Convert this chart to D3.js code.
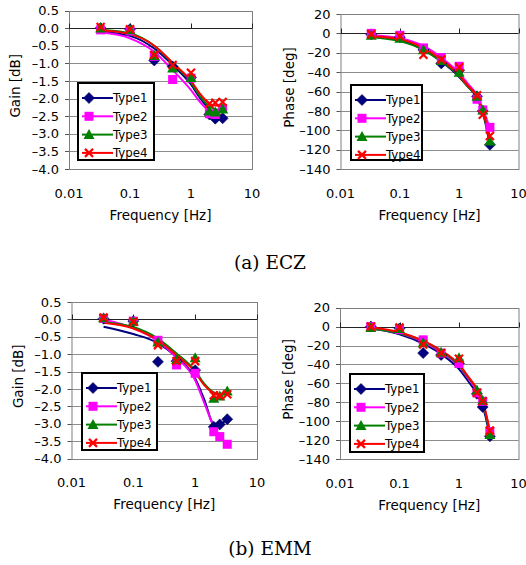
<!DOCTYPE html>
<html lang="en">
<head>
<meta charset="UTF-8" />
<title>ECZ / EMM frequency response</title>
<script src="https://d3js.org/d3.v7.min.js"></script>
<style>
  body { margin: 0; background: #fff; }
  svg { display: block; }
  .tick { font-family: "DejaVu Sans", sans-serif; font-size: 13px; fill: #000; }
  .title { font-family: "DejaVu Sans", sans-serif; font-size: 13.5px; fill: #000; }
  .leg { font-family: "DejaVu Sans", sans-serif; font-size: 11.8px; fill: #000; }
  .caption { font-family: "DejaVu Serif", serif; font-size: 18.5px; fill: #000; }
</style>
</head>
<body>
<svg id="chart" width="526" height="565"></svg>
<script>
// measured frequencies and fitted-curve frequencies (Hz)
const pointFreqs = [0.033, 0.1, 0.25, 0.5, 1, 2, 2.5, 3.3];
const curveFreqs = [0.033, 0.1, 0.25, 0.5, 1, 1.4, 2, 2.5, 3.3];
const types = ["Type1", "Type2", "Type3", "Type4"];
const xTicks = [0.01, 0.1, 1, 10];

// (a) ECZ gain [dB]
const eczGainPts = [
  [0, -0.03, -0.92, -1.09, -1.40, -2.45, -2.57, -2.56],
  [-0.05, -0.08, -0.80, -1.46, -1.42, -2.43, -2.45, -2.28],
  [0, -0.05, -0.78, -1.13, -1.40, -2.35, -2.38, -2.30],
  [0.03, -0.03, -0.76, -1.05, -1.27, -2.15, -2.12, -2.10]
];
const eczGainFit = [
  [-0.10, -0.22, -0.58, -1.05, -1.60, -1.98, -2.30, -2.45, -2.50],
  [-0.12, -0.29, -0.67, -1.19, -1.76, -2.09, -2.36, -2.45, -2.47],
  [-0.05, -0.15, -0.50, -1.00, -1.55, -1.93, -2.22, -2.30, -2.32],
  [-0.06, -0.17, -0.50, -0.98, -1.50, -1.86, -2.14, -2.20, -2.20]
];
// (a) ECZ phase [deg]
const eczPhasePts = [
  [-1, -4, -17, -31, -38, -65, -80, -115],
  [0, -2, -15, -25, -34, -68, -79, -97],
  [-2, -5, -17, -28, -40, -65, -79, -111],
  [-1, -3, -22, -27, -35, -64, -84, -106]
];
const eczPhaseFit = [
  [-3, -7, -17, -29, -45, -55, -67, -82, -115],
  [-2, -5, -13, -25, -41, -52, -64, -78, -98],
  [-4, -8, -17, -29, -44, -55, -66, -80, -112],
  [-3, -6, -15, -27, -43, -54, -65, -81, -106]
];
// (b) EMM gain [dB]
const emmGainPts = [
  [0.02, -0.05, -1.22, -1.20, -1.46, -3.09, -3.02, -2.87],
  [0.03, -0.05, -0.60, -1.31, -1.55, -3.23, -3.37, -3.59],
  [0.05, -0.05, -0.65, -1.15, -1.10, -2.27, -2.20, -2.06],
  [0.05, -0.07, -0.74, -1.20, -1.20, -2.18, -2.20, -2.15]
];
const emmGainFit = [
  [-0.21, -0.42, -0.68, -1.08, -1.70, -2.30, -3.00, -3.00, -2.88],
  [0.00, -0.25, -0.62, -1.10, -1.75, -2.40, -3.10, null, null],
  [-0.08, -0.22, -0.55, -0.98, -1.48, -1.85, -2.10, -2.15, -2.10],
  [-0.10, -0.26, -0.60, -1.03, -1.52, -1.89, -2.12, -2.18, -2.12]
];
// (b) EMM phase [deg]
const emmPhasePts = [
  [0, -2, -28, -30, -39, -71, -85, -116],
  [0, -3, -14, -28, -39, -70, -79, -111],
  [-1, -2, -17, -27, -33, -67, -78, -114],
  [0, -1, -19, -28, -34, -70, -79, -110]
];
const emmPhaseFit = [
  [-2, -8, -18, -29, -45, -57, -71, -84, -116],
  [-2, -7, -16, -27, -42, -54, -68, -80, -111],
  [-2, -7, -15, -26, -41, -53, -66, -79, -114],
  [-1, -6, -15, -25, -40, -52, -66, -79, -110]
];

const colors = ["#000080", "#ff00ff", "#008000", "#ff0000"];
const svg = d3.select("#chart");

function marker(g, i, x, y) {
  if (i === 0) {
    g.append("path").attr("d", `M${x},${y - 5.5}L${x + 5.5},${y}L${x},${y + 5.5}L${x - 5.5},${y}Z`)
      .attr("fill", colors[0]).attr("stroke", "#000050").attr("stroke-width", 0.6);
  } else if (i === 1) {
    g.append("rect").attr("x", x - 4.5).attr("y", y - 4.5).attr("width", 9).attr("height", 9)
      .attr("fill", colors[1]);
  } else if (i === 2) {
    g.append("path").attr("d", `M${x},${y - 5.5}L${x + 5.5},${y + 4.5}L${x - 5.5},${y + 4.5}Z`)
      .attr("fill", colors[2]);
  } else {
    g.append("path").attr("d", `M${x - 4},${y - 4}L${x + 4},${y + 4}M${x + 4},${y - 4}L${x - 4},${y + 4}`)
      .attr("stroke", colors[3]).attr("stroke-width", 2.2).attr("fill", "none");
  }
}

function panel(o) {
  const x = d3.scaleLog().domain([0.01, 10]).range([o.left, o.right]);
  const y = d3.scaleLinear().domain(o.yDomain).range([o.bottom, o.top]);
  const g = svg.append("g");
  const yTicks = d3.range(o.yDomain[0], o.yDomain[1] + o.step / 2, o.step);

  // grid
  g.selectAll(".grid").data(yTicks.filter(v => Math.abs(v) > 1e-9))
    .enter().append("line")
    .attr("x1", o.left).attr("x2", o.right)
    .attr("y1", d => Math.round(y(d)) + 0.5).attr("y2", d => Math.round(y(d)) + 0.5)
    .attr("stroke", "#8c8c8c").attr("stroke-width", 1);
  g.append("rect").attr("x", o.left + 0.5).attr("y", Math.round(o.top) + 0.5)
    .attr("width", o.right - o.left).attr("height", Math.round(o.bottom) - Math.round(o.top))
    .attr("fill", "none").attr("stroke", "#808080");
  // y ticks (outside)
  g.selectAll(".yt").data(yTicks).enter().append("line")
    .attr("x1", o.left - 4).attr("x2", o.left)
    .attr("y1", d => Math.round(y(d)) + 0.5).attr("y2", d => Math.round(y(d)) + 0.5)
    .attr("stroke", "#555");
  g.selectAll(".yl").data(yTicks).enter().append("text")
    .attr("class", "tick").attr("text-anchor", "end")
    .attr("x", o.left - 10).attr("y", d => y(d)).attr("dy", "0.36em")
    .text(d => o.fmt(d).replace("\u2212", "\u2013"));
  // x axis crossing at 0
  const y0 = Math.round(y(0)) + 0.5;
  g.append("line").attr("x1", o.left).attr("x2", o.right).attr("y1", y0).attr("y2", y0)
    .attr("stroke", "#222");
  g.selectAll(".xt").data(xTicks).enter().append("line")
    .attr("x1", d => Math.round(x(d)) + 0.5).attr("x2", d => Math.round(x(d)) + 0.5)
    .attr("y1", y0 - 5).attr("y2", y0).attr("stroke", "#222");
  g.selectAll(".xl").data(xTicks).enter().append("text")
    .attr("class", "tick").attr("text-anchor", "middle")
    .attr("x", d => x(d)).attr("y", o.bottom + 24).attr("dy", "0.36em")
    .text(d => d3.format("~g")(d));
  g.append("text").attr("class", "title").attr("text-anchor", "middle")
    .attr("x", (o.left + o.right) / 2).attr("y", o.bottom + 46).attr("dy", "0.36em")
    .text("Frequency [Hz]");
  g.append("text").attr("class", "title").attr("text-anchor", "middle")
    .attr("transform", `translate(${o.left - o.titleOff},${(o.top + o.bottom) / 2 - 4}) rotate(-90)`)
    .attr("dy", "0.36em").text(o.yTitle);

  // fitted curves
  const line = d3.line()
    .defined(d => d[1] !== null)
    .x(d => x(d[0])).y(d => y(d[1]))
    .curve(d3.curveMonotoneX);
  o.fit.forEach((vals, i) => {
    g.append("path").datum(curveFreqs.map((f, k) => [f, vals[k]]))
      .attr("d", line).attr("fill", "none")
      .attr("stroke", colors[i]).attr("stroke-width", 2);
  });
  // measured points
  o.pts.forEach((vals, i) => {
    pointFreqs.forEach((f, k) => marker(g, i, x(f), y(vals[k])));
  });

  // legend
  const [lx, ly, lx2, ly2] = o.legend;
  g.append("rect").attr("x", lx).attr("y", ly).attr("width", lx2 - lx).attr("height", ly2 - ly)
    .attr("fill", "#fff").attr("stroke", "#000").attr("stroke-width", 2);
  types.forEach((t, i) => {
    const ry = ly + 15 + i * 18.3;
    g.append("line").attr("x1", lx + 4).attr("x2", lx + 35).attr("y1", ry).attr("y2", ry)
      .attr("stroke", colors[i]).attr("stroke-width", 2);
    marker(g, i, lx + 11, ry);
    g.append("text").attr("class", "leg").attr("x", lx + 35).attr("y", ry).attr("dy", "0.36em").text(t);
  });
}

const fmtGain = d3.format(".1f");
const fmtPhase = d3.format("d");

panel({ left: 69, right: 252, top: 10.5, bottom: 169, yDomain: [-4, 0.5], step: 0.5, fmt: fmtGain,
  yTitle: "Gain [dB]", titleOff: 54, pts: eczGainPts, fit: eczGainFit, legend: [78, 83, 154, 160] });
panel({ left: 340.5, right: 518.5, top: 14, bottom: 169, yDomain: [-140, 20], step: 20, fmt: fmtPhase,
  yTitle: "Phase [deg]", titleOff: 51.5, pts: eczPhasePts, fit: eczPhaseFit, legend: [351, 85, 422, 160] });
panel({ left: 71.5, right: 257, top: 302, bottom: 458.5, yDomain: [-4, 0.5], step: 0.5, fmt: fmtGain,
  yTitle: "Gain [dB]", titleOff: 53.5, pts: emmGainPts, fit: emmGainFit, legend: [82, 373, 157, 450] });
panel({ left: 340, right: 518.5, top: 307.7, bottom: 459, yDomain: [-140, 20], step: 20, fmt: fmtPhase,
  yTitle: "Phase [deg]", titleOff: 52, pts: emmPhasePts, fit: emmPhaseFit, legend: [350, 374, 424, 452] });

svg.append("text").attr("class", "caption").attr("text-anchor", "middle")
  .attr("x", 270).attr("y", 262).attr("dy", "0.36em").text("(a) ECZ");
svg.append("text").attr("class", "caption").attr("text-anchor", "middle")
  .attr("x", 270).attr("y", 548).attr("dy", "0.36em").text("(b) EMM");
</script>
</body>
</html>
